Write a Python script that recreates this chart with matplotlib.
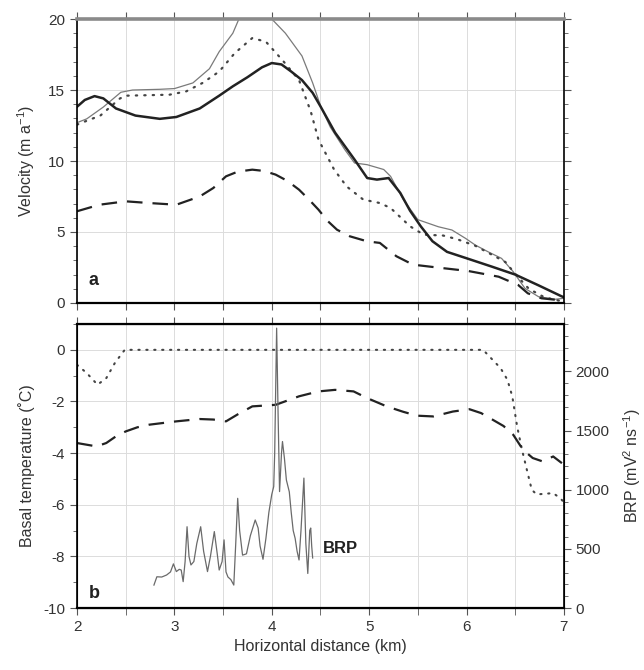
import numpy as np
import matplotlib
matplotlib.use("Agg")
import matplotlib.pyplot as plt
from matplotlib.ticker import MultipleLocator

plt.rcParams['font.family'] = ['Liberation Sans', 'DejaVu Sans']
plt.rcParams['mathtext.default'] = 'regular'
plt.rcParams['axes.unicode_minus'] = False
plt.rcParams['font.size'] = 11

# ---- panel a: velocity (m a-1) ----
x_solid = [2.0, 2.08, 2.18, 2.27, 2.4, 2.6, 2.85, 3.02, 3.26, 3.46, 3.6, 3.75, 3.9, 4.0, 4.1,
           4.2, 4.31, 4.42, 4.5, 4.65, 4.85, 4.98, 5.08, 5.2, 5.32, 5.42, 5.53, 5.65, 5.8, 6.0,
           6.26, 6.5, 6.74, 6.97, 7.0]
v_solid = [13.82, 14.3, 14.57, 14.41, 13.7, 13.2, 12.97, 13.1, 13.7, 14.6, 15.26, 15.9, 16.6, 16.9, 16.8,
           16.3, 15.7, 14.8, 13.85, 12.0, 10.1, 8.8, 8.69, 8.8, 7.75, 6.5, 5.4, 4.35, 3.6, 3.15,
           2.56, 2.0, 1.24, 0.49, 0.4]

x_thin = [2.0, 2.1, 2.27, 2.45, 2.57, 2.85, 3.0, 3.19, 3.36, 3.46, 3.6, 3.7, 3.85, 4.0, 4.14,
          4.31, 4.42, 4.5, 4.6, 4.75, 4.85, 4.98, 5.15, 5.22, 5.35, 5.5, 5.71, 5.85, 5.99, 6.09,
          6.22, 6.36, 6.48, 6.6, 6.74, 6.91, 7.0]
v_thin = [12.7, 12.97, 13.8, 14.84, 15.0, 15.05, 15.1, 15.5, 16.5, 17.7, 19.0, 20.6, 21.0, 20.0, 19.0,
          17.4, 15.5, 13.9, 12.4, 10.8, 9.86, 9.74, 9.4, 8.92, 7.3, 5.87, 5.37, 5.14, 4.55, 4.08,
          3.61, 3.14, 2.2, 1.03, 0.44, 0.26, 0.33]

x_dot = [2.0, 2.05, 2.24, 2.44, 2.5, 2.95, 3.12, 3.29, 3.46, 3.62, 3.8, 3.94, 4.11, 4.28, 4.4,
         4.48, 4.64, 4.77, 4.94, 5.11, 5.22, 5.42, 5.56, 5.76, 5.9, 6.09, 6.26, 6.4, 6.5, 6.64,
         6.8, 6.98]
v_dot = [12.56, 12.7, 13.2, 14.4, 14.6, 14.67, 14.9, 15.5, 16.3, 17.6, 18.66, 18.4, 17.1, 15.7, 13.5,
         11.5, 9.4, 8.2, 7.28, 7.04, 6.69, 5.4, 4.81, 4.75, 4.5, 4.03, 3.4, 2.88, 2.05, 1.0,
         0.4, 0.12]

x_dash = [2.0, 2.23, 2.5, 2.74, 3.02, 3.26, 3.4, 3.53, 3.65, 3.8, 3.92, 4.04, 4.16, 4.28, 4.38,
          4.48, 4.57, 4.67, 4.8, 4.98, 5.11, 5.28, 5.45, 5.71, 6.02, 6.33, 6.53, 6.63, 6.77, 6.95]
v_dash = [6.46, 6.92, 7.16, 7.04, 6.92, 7.5, 8.1, 8.92, 9.25, 9.39, 9.3, 9.04, 8.6, 7.98, 7.3,
          6.57, 5.8, 5.16, 4.7, 4.34, 4.23, 3.29, 2.7, 2.49, 2.25, 1.85, 1.27, 0.68, 0.33, 0.2]

# ---- panel b: basal temperature (C) and BRP ----
x_tmelt = [2.0, 2.1, 2.21, 2.3, 2.39, 2.49, 6.17, 6.35, 6.42, 6.47, 6.52, 6.57, 6.62, 6.67,
           6.72, 6.89, 6.96, 7.0]
t_melt = [-0.58, -0.9, -1.35, -1.1, -0.5, 0.0, 0.0, -0.71, -1.16, -1.8, -2.97, -3.87, -4.65, -5.42,
          -5.6, -5.55, -5.74, -5.9]

x_tbase = [2.0, 2.2, 2.3, 2.4, 2.5, 2.62, 2.74, 3.02, 3.26, 3.4, 3.53, 3.65, 3.8, 4.04, 4.28,
           4.48, 4.65, 4.84, 4.98, 5.18, 5.35, 5.49, 5.66, 5.86, 6.03, 6.15, 6.27, 6.38, 6.48, 6.58,
           6.68, 6.78, 6.89, 6.98]
t_base = [-3.61, -3.74, -3.61, -3.35, -3.16, -3.0, -2.9, -2.77, -2.68, -2.7, -2.77, -2.5, -2.19, -2.13, -1.8,
          -1.61, -1.55, -1.61, -1.87, -2.19, -2.4, -2.55, -2.58, -2.39, -2.3, -2.45, -2.71, -2.95, -3.29, -3.87,
          -4.19, -4.32, -4.13, -4.39]

x_brp = [2.79, 2.82, 2.87, 2.92, 2.96, 2.99, 3.02, 3.05, 3.07, 3.09, 3.11, 3.13, 3.15, 3.17, 3.20,
         3.23, 3.27, 3.30, 3.34, 3.37, 3.41, 3.44, 3.46, 3.49, 3.51, 3.53, 3.55, 3.58, 3.61, 3.63,
         3.65, 3.67, 3.70, 3.74, 3.78, 3.83, 3.86, 3.88, 3.91, 3.94, 3.97, 4.00, 4.02, 4.03, 4.05,
         4.065, 4.08, 4.10, 4.11, 4.13, 4.15, 4.18, 4.20, 4.22, 4.24, 4.26, 4.28, 4.30, 4.33, 4.35,
         4.37, 4.39, 4.40, 4.41, 4.42]
brp = [194, 264, 262, 279, 305, 373, 308, 327, 321, 223, 393, 687, 436, 364, 393,
       545, 687, 480, 308, 436, 646, 458, 321, 393, 576, 305, 262, 240, 194, 545,
       927, 655, 447, 458, 611, 744, 676, 524, 412, 589, 807, 960, 1026, 1309, 2365,
       1636, 984, 1309, 1407, 1265, 1082, 982, 807, 655, 589, 480, 406, 655, 1098, 545,
       292, 655, 676, 524, 423]

fig = plt.figure(figsize=(6.44, 6.70), dpi=100)
ax_a = fig.add_axes([0.1196, 0.5478, 0.756, 0.4238])
ax_b = fig.add_axes([0.1196, 0.0925, 0.756, 0.4239])
ax_r = ax_b.twinx()

grid_kw = dict(color='#dcdcdc', lw=0.7)
tick_col = '#555555'
lab_col = '#333333'

# panel a
ax_a.plot(x_thin, v_thin, color='#7a7a7a', lw=0.9)
ax_a.plot(x_dot, v_dot, color='#444444', lw=1.6, ls=(0, (0.6, 3.2)), dash_capstyle='round')
ax_a.plot(x_dash, v_dash, color='#222222', lw=1.6, ls=(0, (7, 4.5)))
ax_a.plot(x_solid, v_solid, color='#222222', lw=1.8)
ax_a.set_xlim(2, 7)
ax_a.set_ylim(0, 20)
ax_a.xaxis.set_major_locator(MultipleLocator(0.5))
ax_a.yaxis.set_major_locator(MultipleLocator(5))
ax_a.yaxis.set_minor_locator(MultipleLocator(1))
ax_a.tick_params(axis='x', which='both', direction='out', length=5, top=True, bottom=True,
                 labelbottom=False, color=tick_col)
ax_a.tick_params(axis='y', which='major', direction='out', length=5, left=True, right=True,
                 color=tick_col, labelcolor=lab_col)
ax_a.tick_params(axis='y', which='minor', direction='out', length=3, left=True, right=True, color=tick_col)
ax_a.grid(True, which='major', **grid_kw)
ax_a.set_axisbelow(True)
ax_a.set_ylabel('Velocity (m a$^{-1}$)', labelpad=8, color=lab_col, fontsize=11.5)
ax_a.spines['top'].set_color('#8a8a8a')
ax_a.spines['top'].set_linewidth(2.6)
ax_a.spines['bottom'].set_linewidth(1.6)
ax_a.spines['left'].set_linewidth(1.2)
ax_a.spines['right'].set_linewidth(1.2)
ax_a.text(2.12, 1.0, 'a', fontsize=13, fontweight='bold', va='bottom', color='#222222')

# panel b
ax_b.plot(x_tmelt, t_melt, color='#444444', lw=1.5, ls=(0, (0.6, 3.2)), dash_capstyle='round')
ax_b.plot(x_tbase, t_base, color='#222222', lw=1.6, ls=(0, (7, 4.5)))
ax_b.set_xlim(2, 7)
ax_b.set_ylim(-10, 1)
ax_b.xaxis.set_major_locator(MultipleLocator(1))
ax_b.xaxis.set_minor_locator(MultipleLocator(0.5))
ax_b.yaxis.set_major_locator(MultipleLocator(2))
ax_b.yaxis.set_minor_locator(MultipleLocator(1))
ax_b.tick_params(axis='x', which='both', direction='out', length=5, top=True, bottom=True,
                 color=tick_col, labelcolor=lab_col)
ax_b.tick_params(axis='y', which='major', direction='out', length=5, color=tick_col, labelcolor=lab_col)
ax_b.tick_params(axis='y', which='minor', direction='out', length=3, color=tick_col)
ax_b.grid(True, which='both', axis='x', **grid_kw)
ax_b.grid(True, which='major', axis='y', **grid_kw)
ax_b.set_axisbelow(True)
ax_b.set_ylabel('Basal temperature (\u02daC)', labelpad=6, color=lab_col, fontsize=11.5)
ax_b.set_xlabel('Horizontal distance (km)', labelpad=4, color=lab_col, fontsize=11.5)
for s in ['top', 'bottom']:
    ax_b.spines[s].set_linewidth(1.6)
ax_b.spines['left'].set_linewidth(1.2)
ax_b.text(2.12, -9.75, 'b', fontsize=13, fontweight='bold', va='bottom', color='#222222')

ax_r.plot(x_brp, brp, color='#6a6a6a', lw=0.9)
ax_r.set_ylim(0, 2400)
ax_r.yaxis.set_major_locator(MultipleLocator(500))
ax_r.yaxis.set_minor_locator(MultipleLocator(100))
ax_r.tick_params(axis='y', which='major', direction='out', length=5, color=tick_col, labelcolor=lab_col)
ax_r.tick_params(axis='y', which='minor', direction='out', length=3, color=tick_col)
ax_r.set_ylabel('BRP (mV$^2$ ns$^{-1}$)', labelpad=8, color=lab_col, fontsize=11.5)
ax_r.spines['right'].set_linewidth(1.2)
ax_r.text(4.52, 500, 'BRP', fontsize=12, fontweight='bold', va='center', color='#222222')

fig.savefig('out.png', dpi=100)
